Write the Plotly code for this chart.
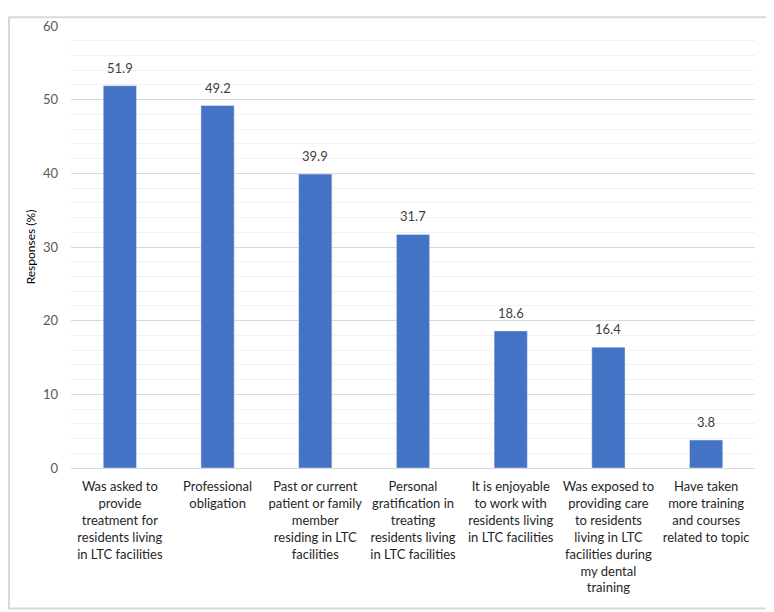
import plotly.graph_objects as go

categories = [
    "Was asked to<br>provide<br>treatment for<br>residents living<br>in LTC facilities",
    "Professional<br>obligation",
    "Past or current<br>patient or family<br>member<br>residing in LTC<br>facilities",
    "Personal<br>gratification in<br>treating<br>residents living<br>in LTC facilities",
    "It is enjoyable<br>to work with<br>residents living<br>in LTC facilities",
    "Was exposed to<br>providing care<br>to residents<br>living in LTC<br>facilities during<br>my dental<br>training",
    "Have taken<br>more training<br>and courses<br>related to topic",
]
responses = [51.9, 49.2, 39.9, 31.7, 18.6, 16.4, 3.8]

BAR_COLOR = "#4472C4"
FONT = "Lato, 'Noto Sans', sans-serif"

fig = go.Figure()
fig.add_trace(
    go.Bar(
        x=categories,
        y=responses,
        marker_color=BAR_COLOR,
        hoverinfo="x+y",
    )
)

# value labels sit a little above each bar
for cat, val in zip(categories, responses):
    fig.add_annotation(
        x=cat, y=val,
        text=f"{val:.1f}",
        showarrow=False,
        yanchor="bottom",
        yshift=8,
        font=dict(color="#404040", size=13, family=FONT),
    )

# the page body has an 8px margin, so the figure is sized to fit inside it
fig.update_layout(
    width=766,
    height=604,
    margin=dict(l=63, r=19, t=10, b=144),
    paper_bgcolor="white",
    plot_bgcolor="white",
    bargap=0.66,
    showlegend=False,
    font=dict(family=FONT, size=13, color="#262626"),
)

fig.update_xaxes(
    tickfont=dict(size=13, color="#262626", family=FONT),
    tickangle=0,
    showline=False,
    ticks="",
    ticklabelstandoff=9,
)

fig.update_yaxes(
    range=[0, 60],
    dtick=10,
    showgrid=True,
    gridcolor="#d9d9d9",
    gridwidth=1,
    minor=dict(dtick=2, showgrid=True, gridcolor="#f2f2f2", gridwidth=1),
    zeroline=True,
    zerolinecolor="#d9d9d9",
    zerolinewidth=1,
    tickfont=dict(size=13, color="#595959", family=FONT),
    ticks="",
    ticklabelstandoff=12,
    title=dict(text="Responses (%)", font=dict(size=12, color="#000000", family=FONT), standoff=4),
)

# light grey border around the whole chart
fig.add_shape(
    type="rect",
    xref="paper", yref="paper",
    x0=-62 / 684, x1=1 + 18 / 684,
    y0=-143 / 450, y1=1 + 9 / 450,
    line=dict(color="#d9d9d9", width=2),
    fillcolor="rgba(0,0,0,0)",
    layer="below",
)

fig.write_html("out.html")
